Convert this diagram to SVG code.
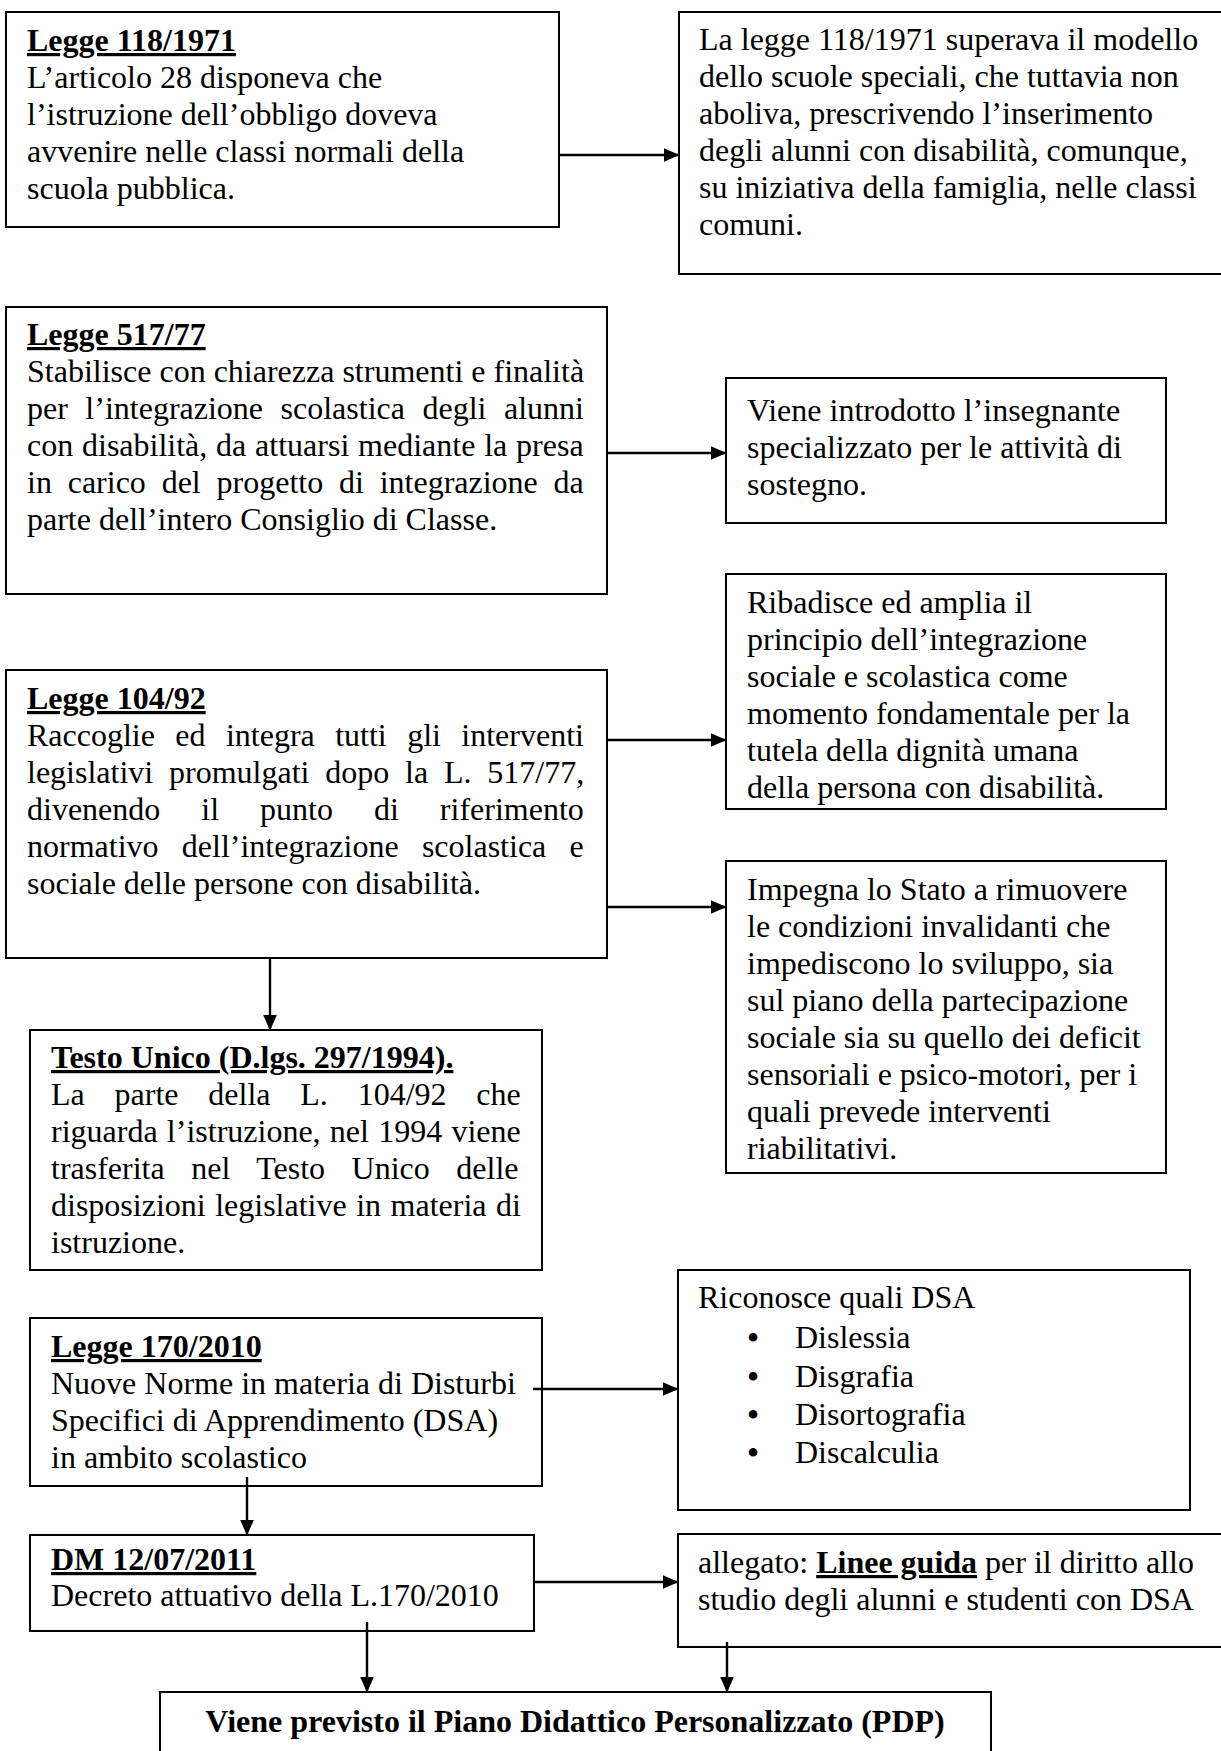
<svg xmlns="http://www.w3.org/2000/svg" width="1221" height="1751" viewBox="0 0 1221 1751">
<style>
.box{fill:#fff;stroke:#000;stroke-width:2}
text{font-family:"Liberation Serif","Times New Roman",serif;font-size:32px;fill:#000}
.t{font-weight:bold;text-decoration:underline}
.b{font-weight:bold}
.bu{font-size:36px}
.c{fill:none;stroke:#000;stroke-width:2.4}
</style>
<defs>
<marker id="ah" markerUnits="userSpaceOnUse" markerWidth="16" markerHeight="14" refX="15.5" refY="7" orient="auto">
<path d="M0,0 L16,7 L0,14 Z" fill="#000"/>
</marker>
</defs>
<rect width="1221" height="1751" fill="#fff"/>

<g id="n1">
<rect class="box" x="6" y="12" width="553" height="215"/>
<text x="27" y="51"><tspan class="t">Legge 118/1971</tspan></text>
<text x="27" y="88">L’articolo 28 disponeva che</text>
<text x="27" y="125">l’istruzione dell’obbligo doveva</text>
<text x="27" y="162">avvenire nelle classi normali della</text>
<text x="27" y="199">scuola pubblica.</text>
</g>

<g id="n2">
<rect class="box" x="679" y="12" width="550" height="262"/>
<text x="699" y="50">La legge 118/1971 superava il modello</text>
<text x="699" y="87">dello scuole speciali, che tuttavia non</text>
<text x="699" y="124">aboliva, prescrivendo l’inserimento</text>
<text x="699" y="161">degli alunni con disabilità, comunque,</text>
<text x="699" y="198">su iniziativa della famiglia, nelle classi</text>
<text x="699" y="235">comuni.</text>
</g>

<g id="n3">
<rect class="box" x="6" y="307" width="601" height="287"/>
<text x="27" y="345"><tspan class="t">Legge 517/77</tspan></text>
<text x="27" y="382">Stabilisce con chiarezza strumenti e finalità</text>
<text x="27" y="419" word-spacing="9.5">per l’integrazione scolastica degli alunni</text>
<text x="27" y="456" word-spacing="0.8">con disabilità, da attuarsi mediante la presa</text>
<text x="27" y="493" word-spacing="7.8">in carico del progetto di integrazione da</text>
<text x="27" y="530">parte dell’intero Consiglio di Classe.</text>
</g>

<g id="n4">
<rect class="box" x="726" y="378" width="440" height="145"/>
<text x="747" y="421">Viene introdotto l’insegnante</text>
<text x="747" y="458">specializzato per le attività di</text>
<text x="747" y="495">sostegno.</text>
</g>

<g id="n5">
<rect class="box" x="6" y="670" width="601" height="288"/>
<text x="27" y="709"><tspan class="t">Legge 104/92</tspan></text>
<text x="27" y="746" word-spacing="12.4">Raccoglie ed integra tutti gli interventi</text>
<text x="27" y="783" word-spacing="7.8">legislativi promulgati dopo la L. 517/77,</text>
<text x="27" y="820" word-spacing="33">divenendo il punto di riferimento</text>
<text x="27" y="857" word-spacing="15.3">normativo dell’integrazione scolastica e</text>
<text x="27" y="894">sociale delle persone con disabilità.</text>
</g>

<g id="n6">
<rect class="box" x="726" y="574" width="440" height="235"/>
<text x="747" y="613">Ribadisce ed amplia il</text>
<text x="747" y="650">principio dell’integrazione</text>
<text x="747" y="687">sociale e scolastica come</text>
<text x="747" y="724">momento fondamentale per la</text>
<text x="747" y="761">tutela della dignità umana</text>
<text x="747" y="798">della persona con disabilità.</text>
</g>

<g id="n7">
<rect class="box" x="726" y="861" width="440" height="312"/>
<text x="747" y="900">Impegna lo Stato a rimuovere</text>
<text x="747" y="937">le condizioni invalidanti che</text>
<text x="747" y="974">impediscono lo sviluppo, sia</text>
<text x="747" y="1011">sul piano della partecipazione</text>
<text x="747" y="1048">sociale sia su quello dei deficit</text>
<text x="747" y="1085">sensoriali e psico-motori, per i</text>
<text x="747" y="1122">quali prevede interventi</text>
<text x="747" y="1159">riabilitativi.</text>
</g>

<g id="n8">
<rect class="box" x="30" y="1030" width="512" height="240"/>
<text x="51" y="1068"><tspan class="t">Testo Unico (D.lgs. 297/1994).</tspan></text>
<text x="51" y="1105" word-spacing="21.8">La parte della L. 104/92 che</text>
<text x="51" y="1142" word-spacing="1.25">riguarda l’istruzione, nel 1994 viene</text>
<text x="51" y="1179" word-spacing="18.5">trasferita nel Testo Unico delle</text>
<text x="51" y="1216" word-spacing="1.5">disposizioni legislative in materia di</text>
<text x="51" y="1253">istruzione.</text>
</g>

<g id="n9">
<rect class="box" x="30" y="1318" width="512" height="168"/>
<text x="51" y="1357"><tspan class="t">Legge 170/2010</tspan></text>
<text x="51" y="1394">Nuove Norme in materia di Disturbi</text>
<text x="51" y="1431">Specifici di Apprendimento (DSA)</text>
<text x="51" y="1468">in ambito scolastico</text>
</g>

<g id="n10">
<rect class="box" x="678" y="1270" width="512" height="240"/>
<text x="698" y="1308">Riconosce quali DSA</text>
<text class="bu" x="753" y="1350" text-anchor="middle">•</text><text x="795" y="1348">Dislessia</text>
<text class="bu" x="753" y="1389" text-anchor="middle">•</text><text x="795" y="1387">Disgrafia</text>
<text class="bu" x="753" y="1427" text-anchor="middle">•</text><text x="795" y="1425">Disortografia</text>
<text class="bu" x="753" y="1465" text-anchor="middle">•</text><text x="795" y="1463">Discalculia</text>
</g>

<g id="n11">
<rect class="box" x="30" y="1535" width="504" height="96"/>
<text x="51" y="1570"><tspan class="t">DM 12/07/2011</tspan></text>
<text x="51" y="1606">Decreto attuativo della L.170/2010</text>
</g>

<g id="n12">
<rect class="box" x="678" y="1534" width="551" height="113"/>
<text x="698" y="1573">allegato: <tspan class="t">Linee guida</tspan> per il diritto allo</text>
<text x="698" y="1610">studio degli alunni e studenti con DSA</text>
</g>

<g id="n13">
<rect class="box" x="160" y="1692" width="831" height="80"/>
<text x="575" y="1732" text-anchor="middle" class="b">Viene previsto il Piano Didattico Personalizzato (PDP)</text>
</g>

<g id="connectors">
<line class="c" x1="559" y1="155" x2="679" y2="155" marker-end="url(#ah)"/>
<line class="c" x1="607" y1="453" x2="726" y2="453" marker-end="url(#ah)"/>
<line class="c" x1="607" y1="740" x2="726" y2="740" marker-end="url(#ah)"/>
<line class="c" x1="607" y1="907" x2="726" y2="907" marker-end="url(#ah)"/>
<line class="c" x1="270" y1="958" x2="270" y2="1030" marker-end="url(#ah)"/>
<line class="c" x1="533" y1="1389" x2="678" y2="1389" marker-end="url(#ah)"/>
<line class="c" x1="247" y1="1477" x2="247" y2="1535" marker-end="url(#ah)"/>
<line class="c" x1="534" y1="1582" x2="678" y2="1582" marker-end="url(#ah)"/>
<line class="c" x1="367" y1="1622" x2="367" y2="1692" marker-end="url(#ah)"/>
<line class="c" x1="727" y1="1642" x2="727" y2="1692" marker-end="url(#ah)"/>
</g>
</svg>
